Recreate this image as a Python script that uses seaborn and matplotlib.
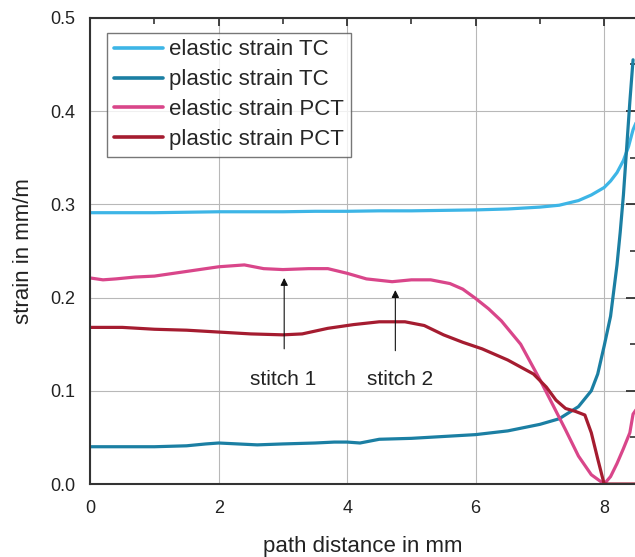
import numpy as np
import pandas as pd
import matplotlib
matplotlib.use("Agg")
import matplotlib.pyplot as plt
import seaborn as sns
from matplotlib.ticker import MultipleLocator

# ---- data ----
x_el_tc = [0, 0.5, 1, 1.5, 2, 2.5, 3, 3.5, 4, 4.5, 5, 5.5, 6, 6.5, 7, 7.3, 7.6, 7.8, 8.0, 8.1, 8.2, 8.3, 8.38, 8.45, 8.5]
y_el_tc = [0.291, 0.291, 0.291, 0.2915, 0.292, 0.292, 0.292, 0.2925, 0.2925, 0.293, 0.293, 0.2935, 0.294, 0.295,
           0.297, 0.299, 0.304, 0.310, 0.318, 0.325, 0.334, 0.347, 0.362, 0.380, 0.388]

x_pl_tc = [0, 0.5, 1, 1.5, 1.8, 2, 2.3, 2.6, 3, 3.5, 3.8, 4, 4.2, 4.5, 5, 5.5, 6, 6.5, 7, 7.3, 7.6, 7.8, 7.9,
           8.0, 8.1, 8.2, 8.25, 8.3, 8.35, 8.4, 8.45]
y_pl_tc = [0.040, 0.040, 0.040, 0.041, 0.043, 0.044, 0.043, 0.042, 0.043, 0.044, 0.045, 0.045, 0.044, 0.048,
           0.049, 0.051, 0.053, 0.057, 0.064, 0.070, 0.083, 0.100, 0.118, 0.148, 0.180, 0.235, 0.270, 0.310,
           0.360, 0.410, 0.455]

x_el_pct = [0, 0.2, 0.4, 0.7, 1, 1.4, 1.7, 2, 2.4, 2.7, 3, 3.4, 3.7, 4, 4.3, 4.7, 5, 5.3, 5.6, 5.8, 6, 6.2,
            6.4, 6.7, 7, 7.2, 7.4, 7.6, 7.8, 8.0, 8.1, 8.2, 8.3, 8.4, 8.45, 8.5]
y_el_pct = [0.221, 0.219, 0.220, 0.222, 0.223, 0.227, 0.230, 0.233, 0.235, 0.231, 0.230, 0.231, 0.231, 0.226,
            0.220, 0.217, 0.219, 0.219, 0.215, 0.209, 0.199, 0.188, 0.175, 0.150, 0.112, 0.085, 0.058, 0.030,
            0.010, 0.0, 0.008, 0.022, 0.038, 0.055, 0.075, 0.080]

x_pl_pct = [0, 0.5, 1, 1.5, 2, 2.5, 3, 3.3, 3.7, 4.1, 4.5, 4.9, 5.2, 5.5, 5.8, 6.1, 6.5, 6.9, 7.1, 7.25, 7.4,
            7.55, 7.7, 7.8, 7.9, 8.0, 8.2, 8.5]
y_pl_pct = [0.168, 0.168, 0.166, 0.165, 0.163, 0.161, 0.160, 0.161, 0.167, 0.171, 0.174, 0.174, 0.170, 0.160,
            0.152, 0.145, 0.133, 0.118, 0.104, 0.090, 0.081, 0.078, 0.074, 0.055, 0.027, 0.0, 0.0, 0.0]

series_names = ["elastic strain TC", "plastic strain TC", "elastic strain PCT", "plastic strain PCT"]
colors = ["#3DB5E6", "#1B7FA3", "#D9468A", "#A51C30"]

x_ticks = [0, 2, 4, 6, 8]
y_ticks = [0.0, 0.1, 0.2, 0.3, 0.4, 0.5]

stitch_labels = ["stitch 1", "stitch 2"]
stitch_x = [3.02, 4.75]
stitch_tip = [0.221, 0.208]
stitch_tail = [0.145, 0.143]
stitch_text_x = [3.0, 4.82]
stitch_text_y = [0.112, 0.112]

# ---- build frame ----
frames = []
for name, xs, ys in zip(series_names,
                        [x_el_tc, x_pl_tc, x_el_pct, x_pl_pct],
                        [y_el_tc, y_pl_tc, y_el_pct, y_pl_pct]):
    frames.append(pd.DataFrame({"x": xs, "y": ys, "series": name}))
df = pd.concat(frames, ignore_index=True)

sns.set_style("white")
plt.rcParams["font.family"] = ["Liberation Sans", "DejaVu Sans"]

fig = plt.figure(figsize=(6.35, 5.57), dpi=100)
ax = fig.add_axes([0.142, 0.131, 0.860, 0.837])

sns.lineplot(data=df, x="x", y="y", hue="series", hue_order=series_names,
             palette=dict(zip(series_names, colors)), estimator=None, sort=False,
             linewidth=2.3, ax=ax)

ax.set_xlim(0, 8.5)
ax.set_ylim(0, 0.5)
ax.set_xticks(x_ticks)
ax.set_xticklabels([str(t) for t in x_ticks])
ax.set_yticks(y_ticks)
ax.set_yticklabels([f"{t:.1f}" for t in y_ticks])
ax.xaxis.set_minor_locator(MultipleLocator(1))
ax.yaxis.set_minor_locator(MultipleLocator(0.05))

ax.grid(True, which="major", color="#b8b8b8", linewidth=0.8)
ax.set_axisbelow(True)

for s in ax.spines.values():
    s.set_color("#333333")
    s.set_linewidth(1.5)

ax.tick_params(axis="both", which="major", direction="out", length=7, width=1.3,
               color="#333333", labelsize=13, labelcolor="#222222")
ax.tick_params(axis="x", which="major", direction="inout", length=11, pad=6)
ax.tick_params(axis="both", which="minor", direction="out", length=4, width=1.2, color="#333333")
ax.tick_params(axis="both", which="both", top=True, right=True)
# top/right ticks point inwards
for t in ax.xaxis.get_major_ticks() + ax.xaxis.get_minor_ticks():
    t.tick2line.set_marker(3)  # tick down from top
for t in ax.yaxis.get_major_ticks() + ax.yaxis.get_minor_ticks():
    t.tick2line.set_marker(0)  # tick left from right
for t in ax.xaxis.get_major_ticks():
    t.tick2line.set_markersize(6)

ax.set_xlabel("path distance in mm", fontsize=16, color="#222222", labelpad=14)
ax.set_ylabel("strain in mm/m", fontsize=16, color="#222222", labelpad=12)

leg = ax.legend(loc="upper left", bbox_to_anchor=(0.031, 0.968), borderaxespad=0,
                fontsize=16, frameon=True, fancybox=False, handlelength=2.2,
                labelspacing=0.4, handletextpad=0.3, borderpad=0.3)
leg.get_frame().set_edgecolor("#555555")
leg.get_frame().set_linewidth(1.0)
for line in leg.get_lines():
    line.set_linewidth(2.6)

for lab, xs, tip, tail, tx, ty in zip(stitch_labels, stitch_x, stitch_tip, stitch_tail, stitch_text_x, stitch_text_y):
    ax.annotate("", xy=(xs, tip), xytext=(xs, tail),
                arrowprops=dict(arrowstyle="-|>", color="#111111", lw=0.8, mutation_scale=11,
                                shrinkA=0, shrinkB=0))
    ax.text(tx, ty, lab, ha="center", va="center", fontsize=15, color="#222222")

fig.savefig("out.png", dpi=100)
